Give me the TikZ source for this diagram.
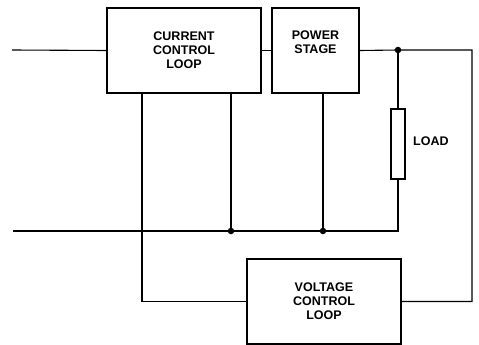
\documentclass[tikz,border=0pt]{standalone}
\usepackage{fontspec}
\setmainfont{Liberation Sans}
\usetikzlibrary{arrows.meta}

\begin{document}
\begin{tikzpicture}[x=1pt, y=-1pt]
    \useasboundingbox (0,0) rectangle (479,345);
    \tikzset{
        block/.style={shape=rectangle, draw, line width=2, align=center,
            font=\fontsize{12.5}{14}\selectfont\bfseries, inner sep=0},
        wire/.style={color=black, line width=1.1},
    }

    % Blocks
    \node[block, minimum width=154, minimum height=85] (ccl) at ({184}, {50.5}) {CURRENT\\CONTROL\\LOOP};
    \node[block, minimum width=87, minimum height=85] (stage) at ({315.5}, {50.5}) {POWER\\STAGE\\[3pt]};
    \node[block, minimum width=154, minimum height=85] (vcl) at ({324}, {301.5}) {VOLTAGE\\CONTROL\\LOOP};
    \node[shape=rectangle, draw, line width=1.5, minimum width=14, minimum height=70] (load) at ({398}, {144}) {};
    \node[font=\fontsize{12.5}{14}\selectfont\bfseries, anchor=west, inner sep=0] (loadlabel) at ({413}, {141}) {LOAD};

    % Junctions
    \foreach \x/\y/\n in {398/50/0, 231/231/1, 323/231/2}{
        \node[shape=circle, fill=black, inner sep=0, minimum size=6.5] (dot\n) at ({\x}, {\y}) {};
    }
    \coordinate (in0) at ({12}, {50});
    \coordinate (in1) at ({13}, {231});
    \coordinate (c0) at ({472}, {50});
    \coordinate (c1) at ({472}, {301.5});
    \coordinate (c2) at ({142}, {93});
    \coordinate (c3) at ({142}, {301.5});
    \coordinate (c4) at ({398}, {231});

    % Wires
    \draw[wire] (in0) -- (ccl.west);
    \draw[wire] (ccl.east) -- (stage.west);
    \draw[wire] (stage.east) -- (dot0.center) -- (c0) -- (c1) -- (vcl.east);
    \draw[wire] (dot0.center) -- (load.north);
    \draw[wire] (load.south) -- (c4) -- (dot2.center) -- (dot1.center) -- (in1);
    \draw[wire] (c2) -- (c3) -- (vcl.west);
    \draw[wire] (ccl.south -| dot1) -- (dot1.center);
    \draw[wire] (stage.south -| dot2) -- (dot2.center);
\end{tikzpicture}
\end{document}
